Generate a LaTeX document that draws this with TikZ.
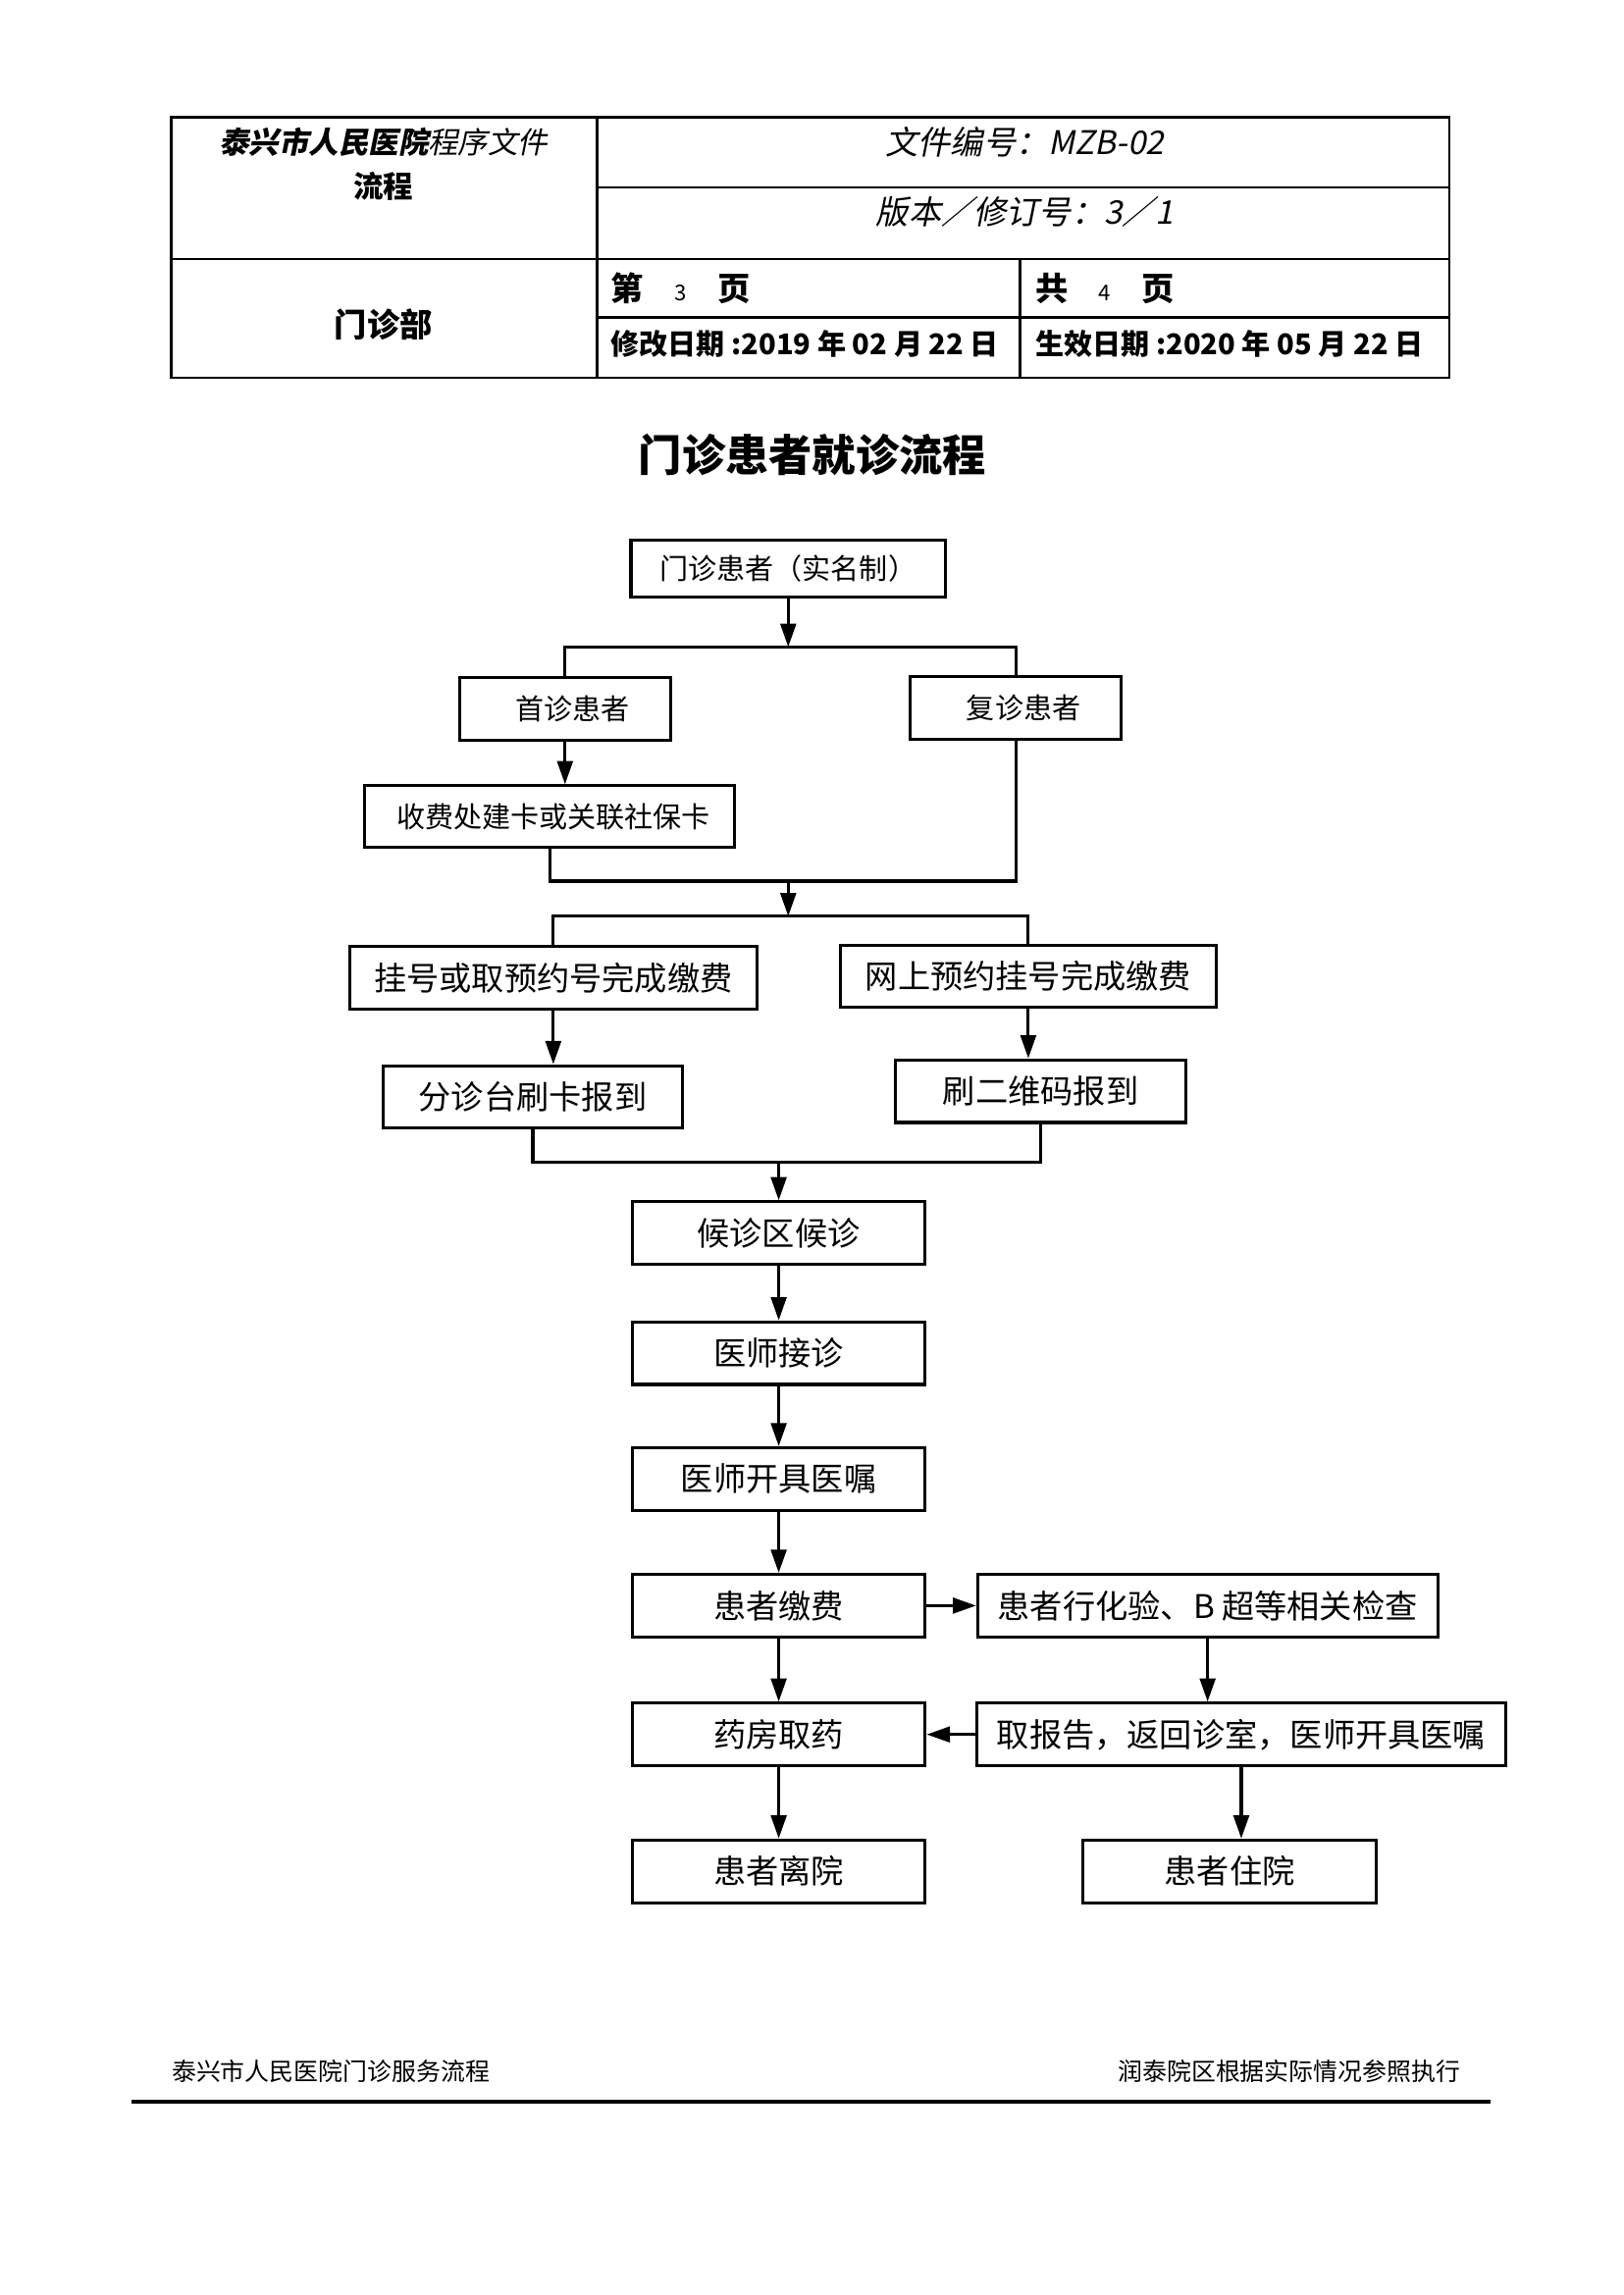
\documentclass[tikz,border=0pt]{standalone}
\usepackage{fontspec}
\setmainfont{Noto Sans CJK SC}
\newfontfamily\slantfont[FakeSlant=0.2]{Noto Sans CJK SC}
\usetikzlibrary{arrows.meta}

\tikzset{
  flowbox/.style={draw, line width=1.1pt, minimum height=8.1mm, inner sep=0pt,
    font=\fontsize{12pt}{14pt}\selectfont},
  smallbox/.style={flowbox, font=\fontsize{10.5pt}{12pt}\selectfont},
  arr/.style={line width=1.1pt, -{Triangle[length=3mm,width=2mm]}},
  link/.style={line width=1.1pt},
  grid line/.style={line width=0.9pt},
  headtext/.style={inner sep=0pt, font=\fontsize{11pt}{13pt}\selectfont},
}

\begin{document}
\begin{tikzpicture}[x=0.18936mm, y=-0.18936mm]
        \useasboundingbox (0,0) rectangle (1109,1568);
        %% header table
          \draw[grid line] (117,80) rectangle (990,258);
          \draw[grid line] (117,177) -- (990,177);
          \draw[grid line] (408,80) -- (408,258);
          \draw[grid line] (408,128) -- (990,128);
          \draw[grid line] (408,217) -- (990,217);
          \draw[grid line] (697,177) -- (697,258);

          \node[headtext] (hospital) at (262,97) {\slantfont\bfseries 泰兴市人民医院\mdseries 程序文件};
          \node[headtext] (flowword) at (262,127) {\bfseries 流程};
          \node[headtext, font=\fontsize{12pt}{14pt}\selectfont] (docno) at (700,97) {\slantfont 文件编号：MZB-02};
          \node[headtext, font=\fontsize{12pt}{14pt}\selectfont] (version) at (700,145) {\slantfont 版本／修订号：3／1};
          \node[headtext, font=\fontsize{12pt}{14pt}\selectfont] (dept) at (262,222) {\bfseries 门诊部};
          \node[headtext, anchor=west, font=\fontsize{12pt}{14pt}\selectfont] (pageno) at (417,197) {\bfseries 第\hspace{4mm}{\mdseries\fontsize{8pt}{9pt}\selectfont 3}\hspace{4mm}页};
          \node[headtext, anchor=west, font=\fontsize{12pt}{14pt}\selectfont] (pagetotal) at (707,197) {\bfseries 共\hspace{4mm}{\mdseries\fontsize{8pt}{9pt}\selectfont 4}\hspace{4mm}页};
          \node[headtext, anchor=west, font=\fontsize{10.5pt}{12pt}\selectfont] (revdate) at (417,235) {\bfseries 修改日期 :2019 年 02 月 22 日};
          \node[headtext, anchor=west, font=\fontsize{10.5pt}{12pt}\selectfont] (effdate) at (707,235) {\bfseries 生效日期 :2020 年 05 月 22 日};

        %% title
          \node[inner sep=0pt, font=\fontsize{16pt}{18pt}\selectfont\bfseries] (title) at (555,311) {门诊患者就诊流程};

        %% registration part
          \node[smallbox, minimum width=40.7mm, minimum height=7.4mm] (patient) at (538.5,388.5) {门诊患者（实名制）};
          \node[smallbox, minimum width=27.3mm] (firstvisit) at (386,484.5) {\hspace{2mm}首诊患者};
          \node[smallbox, minimum width=27.3mm] (revisit) at (694,483.5) {\hspace{2mm}复诊患者};
          \node[smallbox, minimum width=47.9mm, minimum height=8mm] (card) at (375.5,558) {\hspace{1mm}收费处建卡或关联社保卡};
          \node[flowbox, minimum width=52.6mm] (register) at (378,668) {挂号或取预约号完成缴费};
          \node[flowbox, minimum width=48.7mm] (online) at (702.5,667) {网上预约挂号完成缴费};
          \node[flowbox, minimum width=38.6mm] (triage) at (364,749.5) {分诊台刷卡报到\hspace{3mm}};
          \node[flowbox, minimum width=37.5mm] (qrcode) at (711,745.5) {刷二维码报到};

          \coordinate (split1) at (538.5,442);
          \coordinate (merge1) at (538.5,602);
          \coordinate (split2) at (538.5,626);
          \coordinate (merge2) at (532,794);

        %% treatment part
          \node[flowbox, minimum width=37.9mm] (waiting) at (532,842.5) {候诊区候诊};
          \node[flowbox, minimum width=37.9mm] (consult) at (532,924.5) {医师接诊};
          \node[flowbox, minimum width=37.9mm] (orders) at (532,1010.5) {医师开具医嘱};
          \node[flowbox, minimum width=37.9mm] (payment) at (532,1097) {患者缴费};
          \node[flowbox, minimum width=59.5mm] (exam) at (825,1097) {患者行化验、B 超等相关检查};
          \node[flowbox, minimum width=37.9mm] (pharmacy) at (532,1185) {药房取药};
          \node[flowbox, minimum width=68.5mm] (report) at (848,1185) {取报告，返回诊室，医师开具医嘱};
          \node[flowbox, minimum width=37.9mm] (leave) at (532,1278.5) {患者离院};
          \node[flowbox, minimum width=37.9mm] (inpatient) at (840,1278.5) {患者住院};

        %% connectors
          \draw[arr] (patient) -- (split1);
          \draw[link] (firstvisit.north) |- (split1) -| (revisit.north);
          \draw[arr] (firstvisit.south) -- (firstvisit.south |- card.north);
          \draw[link] (card.south) |- (merge1) -| (revisit.south);
          \draw[arr] (merge1) -- (split2);
          \draw[link] (register.north) |- (split2) -| (online.north);
          \draw[arr] (register.south) -- (register.south |- triage.north);
          \draw[arr] (online.south) -- (online.south |- qrcode.north);
          \draw[link] (triage.south) |- (merge2) -| (qrcode.south);
          \draw[arr] (merge2) -- (waiting);
          \draw[arr] (waiting) -- (consult);
          \draw[arr] (consult) -- (orders);
          \draw[arr] (orders) -- (payment);
          \draw[arr] (payment) -- (exam);
          \draw[arr] (payment) -- (pharmacy);
          \draw[arr] (exam.south) -- (exam.south |- report.north);
          \draw[arr] (report) -- (pharmacy);
          \draw[arr] (pharmacy) -- (leave);
          \draw[arr] (report.south) -- (report.south |- inpatient.north);

        %% footer
          \node[inner sep=0pt, anchor=west, font=\fontsize{9pt}{11pt}\selectfont] (footleft) at (117,1415) {泰兴市人民医院门诊服务流程};
          \node[inner sep=0pt, anchor=east, font=\fontsize{9pt}{11pt}\selectfont] (footright) at (998,1415) {润泰院区根据实际情况参照执行};
          \draw[line width=1.4pt] (90,1436) -- (1018,1436);

      \end{tikzpicture}
\end{document}
